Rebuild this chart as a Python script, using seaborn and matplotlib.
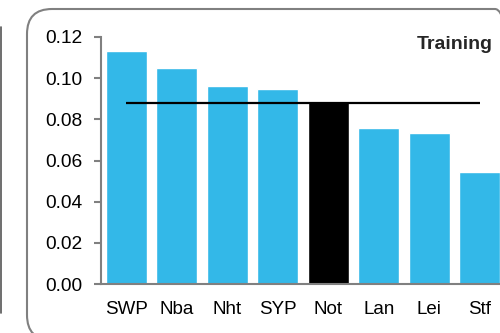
import matplotlib
matplotlib.use("Agg")
import matplotlib.pyplot as plt
from matplotlib.patches import FancyBboxPatch
from matplotlib.lines import Line2D
from matplotlib.transforms import IdentityTransform
import seaborn as sns
import pandas as pd

# --- Data ---
regions = ["SWP", "Nba", "Nht", "SYP", "Not", "Lan", "Lei", "Stf"]
values = [0.1132, 0.1049, 0.0962, 0.0947, 0.0884, 0.0758, 0.0734, 0.0544]
highlight = "Not"
mean_value = 0.0879
panel_title = "Training"

blue = "#33B8E8"
colors = ["black" if r == highlight else blue for r in regions]
df = pd.DataFrame({"region": regions, "value": values})

sns.set_style("white")
plt.rcParams["font.family"] = ["Liberation Sans", "DejaVu Sans"]

fig = plt.figure(figsize=(5, 3.33), dpi=100)
ax = fig.add_axes([0.202, 0.147, 0.808, 0.742])

sns.barplot(data=df, x="region", y="value", hue="region", palette=colors,
            legend=False, width=0.81, saturation=1, ax=ax, zorder=1)
ax.hlines(mean_value, 0, len(regions) - 1, color="black", lw=1.6, zorder=3)

ax.set_xlim(-0.5, len(regions) - 0.5)
ax.set_ylim(0, 0.12)
ax.set_yticks([0, 0.02, 0.04, 0.06, 0.08, 0.10, 0.12])
ax.set_yticklabels([f"{t:.2f}" for t in ax.get_yticks()])
ax.set_xlabel("")
ax.set_ylabel("")

for side in ["top", "right"]:
    ax.spines[side].set_visible(False)
for side in ["left", "bottom"]:
    ax.spines[side].set_color("#808080")
    ax.spines[side].set_linewidth(1.5)

ax.tick_params(axis="y", length=5, width=1.5, color="#808080",
               labelsize=13.8, labelcolor="black", pad=8.5, left=True)
ax.tick_params(axis="x", length=0, labelsize=13.5, labelcolor="black", pad=12)

fig.text(493 / 500, 1 - 49 / 333, panel_title, ha="right", va="baseline",
         fontsize=14, fontweight="bold")

# rounded panel border (in pixels)
border = FancyBboxPatch((27, -7), 493, 331,
                        boxstyle="round,pad=0,rounding_size=25",
                        fill=False, edgecolor="#808080", lw=1.5,
                        transform=IdentityTransform())
fig.add_artist(border)

# edge of the neighbouring panel
fig.add_artist(Line2D([1 / 500, 1 / 500], [1 - 27 / 333, 1 - 313 / 333],
                      color="#555555", lw=1.2, transform=fig.transFigure))

fig.savefig("out.png", dpi=100)
